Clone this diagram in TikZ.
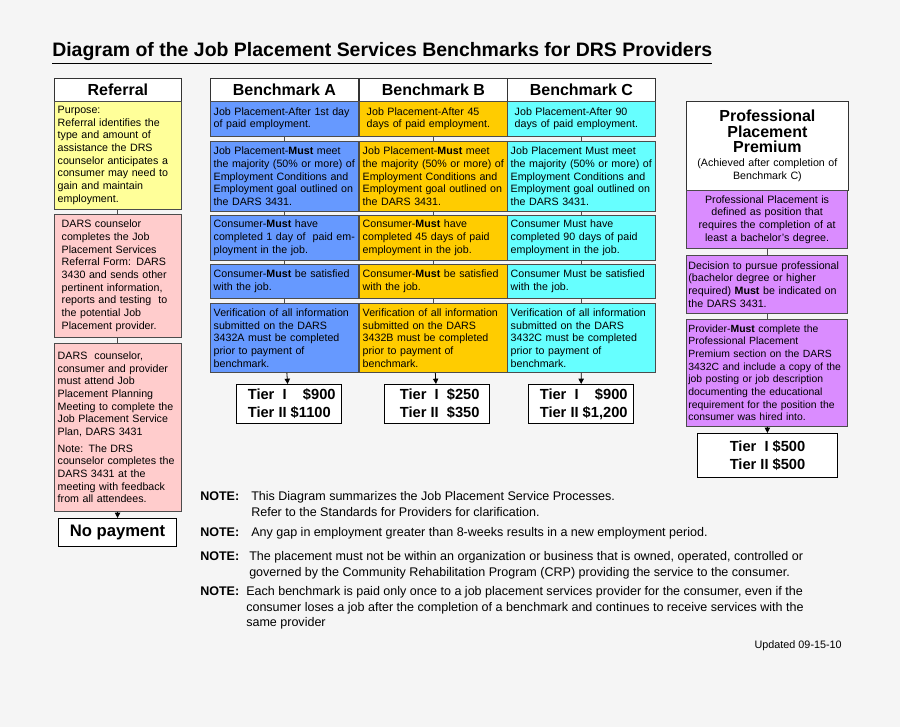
\documentclass[tikz,border=0pt]{standalone}
\usepackage{fontspec}
\setmainfont{Liberation Sans}
\usetikzlibrary{arrows.meta}
\definecolor{bgGray}{RGB}{245,245,245}
\definecolor{refYellow}{RGB}{255,255,153}
\definecolor{refPink}{RGB}{255,204,204}
\definecolor{bmBlue}{RGB}{102,153,255}
\definecolor{bmGold}{RGB}{255,204,0}
\definecolor{bmCyan}{RGB}{102,255,255}
\definecolor{proPurple}{RGB}{218,140,255}
\tikzset{
  cell/.style={draw=black!70, line width=0.6pt, anchor=north west, inner xsep=2.5pt, inner ysep=1pt, align=left,
    font=\fontsize{8}{9.5}\selectfont},
  hdr/.style={draw=black!80, line width=0.6pt, fill=white, anchor=north west, inner sep=1pt, align=center,
    font=\fontsize{12}{13}\selectfont\bfseries},
  tierbox/.style={draw=black, line width=0.8pt, fill=white, anchor=north west, inner sep=1pt, align=left,
    font=\fontsize{11}{13.5}\selectfont\bfseries},
  link/.style={draw=black!70, line width=0.6pt},
  tierarrow/.style={draw=black, line width=0.6pt, -{Triangle[length=4pt,width=4pt]}},
  notelbl/.style={anchor=north west, inner sep=0pt, font=\fontsize{9.4}{11.8}\selectfont\bfseries},
  notetxt/.style={anchor=north west, inner sep=0pt, align=left, font=\fontsize{9.4}{11.8}\selectfont}
}
\begin{document}
\begin{tikzpicture}[x=0.75pt,y=0.75pt,yscale=-1,xscale=1]
        % background
        \fill[bgGray] (0,0) rectangle (900,727);
        \useasboundingbox (0,0) rectangle (900,727);

        % Title
        \node[anchor=base west, inner sep=0pt, font=\fontsize{14.6}{17}\selectfont\bfseries] (title) at (52,57)
          {\underline{Diagram of the Job Placement Services Benchmarks for DRS Providers}};

        % Referral column
        \node[hdr, minimum width=95.25pt, minimum height=17.25pt] (refHead) at (54,78) {Referral};
        \node[cell, fill=refYellow, text width=90pt, minimum height=81pt] (refPurpose) at (54,101)
          {Purpose:\\Referral identifies the\\type and amount of\\assistance the DRS\\counselor anticipates a\\consumer may need to\\gain and maintain\\employment.};
        \node[cell, fill=refPink, text width=90pt, minimum height=92.25pt] (refForm) at (54,214)
          {\hspace*{3pt}DARS counselor\\\hspace*{3pt}completes the Job\\\hspace*{3pt}Placement Services\\\hspace*{3pt}Referral Form: DARS\\\hspace*{3pt}3430 and sends other\\\hspace*{3pt}pertinent information,\\\hspace*{3pt}reports and testing\ \ to\\\hspace*{3pt}the potential Job\\\hspace*{3pt}Placement provider.};
        \node[cell, fill=refPink, text width=90pt, minimum height=126pt] (refMeet) at (54,343)
          {DARS\ \ counselor,\\consumer and provider\\must attend Job\\Placement Planning\\Meeting to complete the\\Job Placement Service\\Plan, DARS 3431\\[3pt]Note: The DRS\\counselor completes the\\DARS 3431 at the\\meeting with feedback\\from all attendees.};
        \node[tierbox, align=center, minimum width=88.5pt, minimum height=21pt, font=\fontsize{12.5}{14}\selectfont\bfseries] (noPay) at (58,518) {No payment};

        \draw[link] (refPurpose) -- (refForm);
        \draw[link] (refForm) -- (refMeet);
        \draw[tierarrow] (refMeet) -- (noPay);

        % Benchmark A
        \node[hdr, minimum width=111pt, minimum height=17.25pt] (aHead) at (210,78) {Benchmark A};
        \node[cell, fill=bmBlue, text width=106pt, minimum height=26.25pt] (aPlace) at (210,101)
          {Job Placement-After 1st day\\of paid employment.};
        \node[cell, fill=bmBlue, text width=106pt, minimum height=52.5pt] (aMeet) at (210,141)
          {Job Placement-\textbf{Must} meet\\the majority (50\% or more) of\\Employment Conditions and\\Employment goal outlined on\\the DARS 3431.};
        \node[cell, fill=bmBlue, text width=106pt, minimum height=33.75pt] (aDays) at (210,215)
          {Consumer-\textbf{Must} have\\completed 1 day of\ \ paid em-\\ployment in the job.};
        \node[cell, fill=bmBlue, text width=106pt, minimum height=25.5pt] (aSat) at (210,264)
          {Consumer-\textbf{Must} be satisfied\\with the job.};
        \node[cell, fill=bmBlue, text width=106pt, minimum height=51.75pt] (aVer) at (210,303)
          {Verification of all information\\submitted on the DARS\\3432A must be completed\\prior to payment of\\benchmark.};
        \node[tierbox, minimum width=78.75pt, minimum height=29.25pt] (aTier) at (236,384)
          {\hspace*{4pt}Tier\ \ I\ \ \ \ \$900\\\hspace*{4pt}Tier II \$1100};

        % Benchmark B
        \node[hdr, minimum width=111pt, minimum height=17.25pt] (bHead) at (359,78) {Benchmark B};
        \node[cell, fill=bmGold, text width=106pt, minimum height=26.25pt] (bPlace) at (359,101)
          {\hspace*{3pt}Job Placement-After 45\\\hspace*{3pt}days of paid employment.};
        \node[cell, fill=bmGold, text width=106pt, minimum height=52.5pt] (bMeet) at (359,141)
          {Job Placement-\textbf{Must} meet\\the majority (50\% or more) of\\Employment Conditions and\\Employment goal outlined on\\the DARS 3431.};
        \node[cell, fill=bmGold, text width=106pt, minimum height=33.75pt] (bDays) at (359,215)
          {Consumer-\textbf{Must} have\\completed 45 days of paid\\employment in the job.};
        \node[cell, fill=bmGold, text width=106pt, minimum height=25.5pt] (bSat) at (359,264)
          {Consumer-\textbf{Must} be satisfied\\with the job.};
        \node[cell, fill=bmGold, text width=106pt, minimum height=51.75pt] (bVer) at (359,303)
          {Verification of all information\\submitted on the DARS\\3432B must be completed\\prior to payment of\\benchmark.};
        \node[tierbox, minimum width=78.75pt, minimum height=29.25pt] (bTier) at (384,384)
          {\hspace*{4pt}Tier\ \ I\ \ \$250\\\hspace*{4pt}Tier II\ \ \$350};

        % Benchmark C
        \node[hdr, minimum width=111pt, minimum height=17.25pt] (cHead) at (507,78) {Benchmark C};
        \node[cell, fill=bmCyan, text width=106pt, minimum height=26.25pt] (cPlace) at (507,101)
          {\hspace*{3pt}Job Placement-After 90\\\hspace*{3pt}days of paid employment.};
        \node[cell, fill=bmCyan, text width=106pt, minimum height=52.5pt] (cMeet) at (507,141)
          {Job Placement Must meet\\the majority (50\% or more) of\\Employment Conditions and\\Employment goal outlined on\\the DARS 3431.};
        \node[cell, fill=bmCyan, text width=106pt, minimum height=33.75pt] (cDays) at (507,215)
          {Consumer Must have\\completed 90 days of paid\\employment in the job.};
        \node[cell, fill=bmCyan, text width=106pt, minimum height=25.5pt] (cSat) at (507,264)
          {Consumer Must be satisfied\\with the job.};
        \node[cell, fill=bmCyan, text width=106pt, minimum height=51.75pt] (cVer) at (507,303)
          {Verification of all information\\submitted on the DARS\\3432C must be completed\\prior to payment of\\benchmark.};
        \node[tierbox, minimum width=78.75pt, minimum height=29.25pt] (cTier) at (528,384)
          {\hspace*{4pt}Tier\ \ I\ \ \ \ \$900\\\hspace*{4pt}Tier II \$1,200};

        % links between rows
        \foreach \col in {a,b,c} {
          \draw[link] (\col Place) -- (\col Meet);
          \draw[link] (\col Meet) -- (\col Days);
          \draw[link] (\col Days) -- (\col Sat);
          \draw[link] (\col Sat) -- (\col Ver);
          \draw[tierarrow] (\col Ver) -- (\col Tier);
        }

        % Professional Placement Premium
        \node[hdr, minimum width=121.5pt, minimum height=66.75pt, text width=118pt, font=\fontsize{8}{9.5}\selectfont] (proHead) at (686,101)
          {{\fontsize{12}{13.5}\selectfont\bfseries Professional}\\[2pt]{\fontsize{12}{13.5}\selectfont\bfseries Placement}\\[2pt]{\fontsize{12}{13.5}\selectfont\bfseries Premium}\\[1pt](Achieved after completion of\\Benchmark C)};
        \node[cell, fill=proPurple, align=center, text width=118pt, inner xsep=1.5pt, minimum height=43.5pt] (proDef) at (686,190)
          {Professional Placement is\\defined as position that\\requires the completion of at\\least a bachelor's degree.};
        \node[cell, fill=proPurple, text width=118pt, inner xsep=1.5pt, minimum height=43.5pt] (proDec) at (686,255)
          {Decision to pursue professional\\(bachelor degree or higher\\required) \textbf{Must} be indicated on\\the DARS 3431.};
        \node[cell, fill=proPurple, text width=118pt, inner xsep=1.5pt, minimum height=80.25pt, font=\fontsize{7.8}{9.5}\selectfont] (proDoc) at (686,319)
          {Provider-\textbf{Must} complete the\\Professional Placement\\Premium section on the DARS\\3432C and include a copy of the\\job posting or job description\\documenting the educational\\requirement for the position the\\consumer was hired into.};
        \node[tierbox, align=center, minimum width=105pt, minimum height=33pt] (proTier) at (697,433)
          {Tier\ \ I \$500\\Tier II \$500};

        \draw[link] (proDef) -- (proDec);
        \draw[link] (proDec) -- (proDoc);
        \draw[tierarrow] (proDoc) -- (proTier);

        % Notes
        \node[notelbl] (noteA) at (200,491) {NOTE:};
        \node[notetxt] (noteAtxt) at (251,491) {This Diagram summarizes the Job Placement Service Processes.\\Refer to the Standards for Providers for clarification.};
        \node[notelbl] (noteB) at (200,527) {NOTE:};
        \node[notetxt] (noteBtxt) at (251,527) {Any gap in employment greater than 8-weeks results in a new employment period.};
        \node[notelbl] (noteC) at (200,551) {NOTE:};
        \node[notetxt] (noteCtxt) at (249,551) {The placement must not be within an organization or business that is owned, operated, controlled or\\governed by the Community Rehabilitation Program (CRP) providing the service to the consumer.};
        \node[notelbl] (noteD) at (200,586) {NOTE:};
        \node[notetxt] (noteDtxt) at (246,586) {Each benchmark is paid only once to a job placement services provider for the consumer, even if the\\consumer loses a job after the completion of a benchmark and continues to receive services with the\\same provider};
        \node[anchor=base east, inner sep=0pt, font=\fontsize{8.1}{9.5}\selectfont] (updated) at (842,648) {Updated 09-15-10};
\end{tikzpicture}
\end{document}
